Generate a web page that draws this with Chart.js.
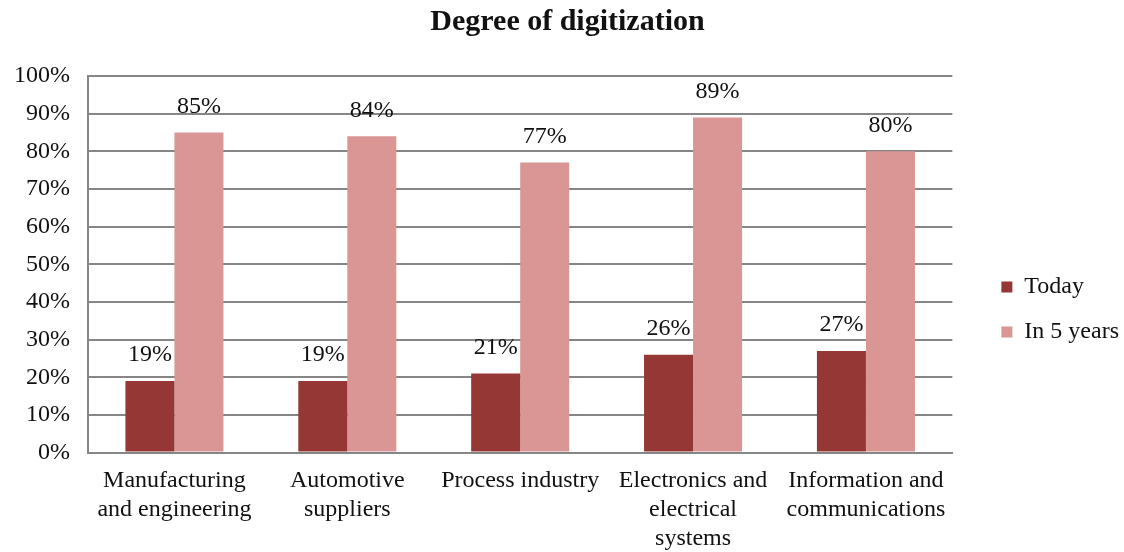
<!DOCTYPE html>
<html>
<head>
<meta charset="utf-8">
<script src="https://cdn.jsdelivr.net/npm/chart.js@4.4.1/dist/chart.umd.min.js"></script>
<style>
    html, body { margin: 0; padding: 0; background: #fff; }
    #wrap { width: 1124px; height: 552px; }
</style>
</head>
<body>
<div id="wrap"><canvas id="chart" width="1124" height="552"></canvas></div>
<script>
const categories = [
    ["Manufacturing", "and engineering"],
    ["Automotive", "suppliers"],
    ["Process industry"],
    ["Electronics and", "electrical", "systems"],
    ["Information and", "communications"]
];
const today = [19, 19, 21, 26, 27];
const inFiveYears = [85, 84, 77, 89, 80];

const serif = "'Liberation Serif', 'Times New Roman', serif";

// value labels above each bar, like the Excel original
const barLabels = {
    id: 'barLabels',
    afterDatasetsDraw(chart) {
        const ctx = chart.ctx;
        ctx.save();
        ctx.font = "24px " + serif;
        ctx.fillStyle = "#111";
        ctx.textAlign = "center";
        ctx.textBaseline = "middle";
        chart.data.datasets.forEach((ds, i) => {
            chart.getDatasetMeta(i).data.forEach((bar, j) => {
                ctx.fillText(ds.data[j] + "%", bar.x, bar.y - 26);
            });
        });
        ctx.restore();
    }
};

// nudge legend and title to where the original has them
const boxShift = {
    id: 'boxShift',
    afterLayout(chart) {
        const lg = chart.legend;
        lg.left += 28;
        lg.right += 28;
        lg.top += 26;
        lg.bottom += 26;
        const tb = chart.titleBlock;
        tb.left += 19;
        tb.right += 19;
    }
};

new Chart(document.getElementById("chart"), {
    type: "bar",
    data: {
        labels: categories,
        datasets: [
            {
                label: "Today",
                data: today,
                backgroundColor: "#953735"
            },
            {
                label: "In 5 years",
                data: inFiveYears,
                backgroundColor: "#D99694"
            }
        ]
    },
    options: {
        responsive: false,
        animation: false,
        layout: {
            padding: { left: -4, right: 23, top: 0, bottom: -15 }
        },
        datasets: {
            bar: {
                categoryPercentage: 0.567,
                barPercentage: 1.0
            }
        },
        plugins: {
            title: {
                display: true,
                text: "Degree of digitization",
                color: "#111",
                font: { family: serif, size: 30, weight: "bold" },
                padding: { top: 4, bottom: 36 }
            },
            legend: {
                position: "right",
                labels: {
                    color: "#111",
                    font: { family: serif, size: 24 },
                    boxWidth: 11,
                    boxHeight: 11,
                    padding: 21
                }
            },
            tooltip: { enabled: false }
        },
        scales: {
            x: {
                grid: { display: false, drawTicks: false },
                border: { color: "#868686", width: 2 },
                ticks: {
                    color: "#111",
                    font: { family: serif, size: 24, lineHeight: 1.2 },
                    padding: 14,
                    maxRotation: 0,
                    autoSkip: false
                }
            },
            y: {
                min: 0,
                max: 100,
                grid: { color: "#868686", lineWidth: 2, drawTicks: false },
                border: { color: "#868686", width: 2 },
                ticks: {
                    stepSize: 10,
                    color: "#111",
                    font: { family: serif, size: 24 },
                    padding: 18,
                    callback: v => v + "%"
                }
            }
        }
    },
    plugins: [barLabels, boxShift]
});
</script>
</body>
</html>
